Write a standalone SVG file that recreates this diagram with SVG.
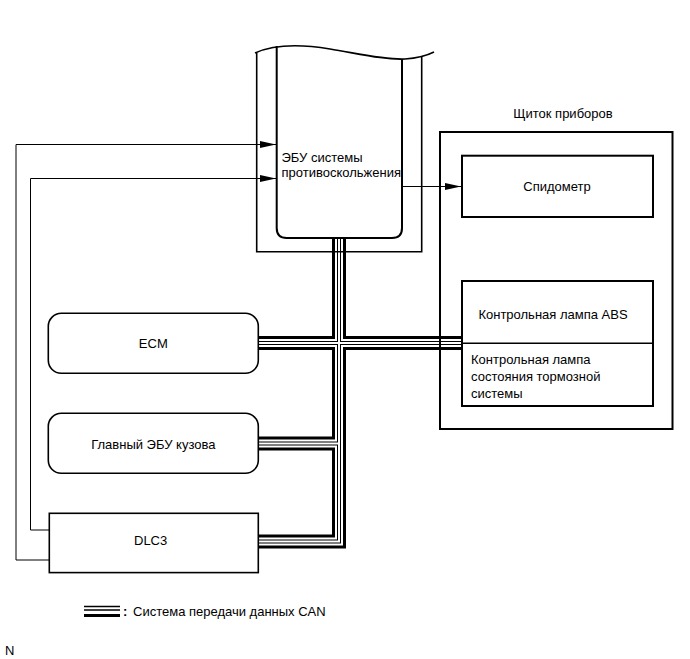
<svg xmlns="http://www.w3.org/2000/svg" xmlns:xlink="http://www.w3.org/1999/xlink" width="690" height="659" viewBox="0 0 690 659">
<style>
text{font-family:"Liberation Sans",Arial,sans-serif;font-size:13px;fill:#000}
.box{fill:none;stroke:#000;stroke-width:1.6}
.box2{fill:none;stroke:#000;stroke-width:2}
.wire{fill:none;stroke:#000;stroke-width:1}
.b1{fill:none;stroke:#000;stroke-width:14;stroke-linejoin:miter}
.b2{fill:none;stroke:#fff;stroke-width:8;stroke-linejoin:miter}
.b3{fill:none;stroke:#000;stroke-width:4;stroke-linejoin:miter}
.b4{fill:none;stroke:#fff;stroke-width:2;stroke-linejoin:miter}
</style>
<defs>
<marker id="arr" markerUnits="userSpaceOnUse" markerWidth="16" markerHeight="8" refX="16" refY="4" orient="auto">
<path d="M0,0.5 L16,4 L0,7.5 z" fill="#000"/>
</marker>
<path id="busTrunk" d="M339 238 V541.5 H258"/>
<path id="busEcm" d="M258 343 H462"/>
<path id="busBody" d="M258 443.5 H339"/>
</defs>
<g id="connectors">
<use href="#busTrunk" class="b1"/><use href="#busEcm" class="b1"/><use href="#busBody" class="b1"/>
<use href="#busTrunk" class="b2"/><use href="#busEcm" class="b2"/><use href="#busBody" class="b2"/>
<use href="#busTrunk" class="b3"/><use href="#busEcm" class="b3"/><use href="#busBody" class="b3"/>
<use href="#busTrunk" class="b4"/><use href="#busEcm" class="b4"/><use href="#busBody" class="b4"/>
<path class="wire" d="M49 560 H16 V144.5 H276" marker-end="url(#arr)"/>
<path class="wire" d="M49 530 H30.5 V178.5 H276" marker-end="url(#arr)"/>
<path class="wire" d="M402 186.5 H461" marker-end="url(#arr)"/>
</g>
<g id="abs-ecu">
<path class="box" d="M256.7 53 V251.7 H421.7 V56.5"/>
<path class="box2" d="M276.7 46 V228 Q276.7 238 286.7 238 H392 Q402 238 402 228 V59"/>
<path class="box" d="M255 53 C275 44,300 44,330 49 C360 54,385 60,405 59 C420 58,428 55,434 52"/>
<text x="281.5" y="162">ЭБУ системы</text>
<text x="281.5" y="177">противоскольжения</text>
</g>
<g id="cluster">
<rect class="box2" x="440" y="132" width="232.5" height="297"/>
<text x="563" y="117.5" text-anchor="middle">Щиток приборов</text>
</g>
<g id="speedometer">
<rect class="box2" x="462" y="155.7" width="191" height="61.3"/>
<text x="557" y="191" text-anchor="middle">Спидометр</text>
</g>
<g id="lamps">
<rect class="box2" x="462" y="281" width="191" height="125"/>
<line class="box" x1="462" y1="343.3" x2="653" y2="343.3"/>
<text x="553" y="318.5" text-anchor="middle">Контрольная лампа ABS</text>
<text x="471" y="363.5">Контрольная лампа</text>
<text x="471" y="380.5">состояния тормозной</text>
<text x="471" y="397.5">системы</text>
</g>
<g id="ecm">
<rect class="box" x="48.3" y="313.3" width="210" height="60" rx="13"/>
<text x="153.3" y="348" text-anchor="middle">ECM</text>
</g>
<g id="body-ecu">
<rect class="box" x="48.3" y="413.3" width="210" height="60" rx="13"/>
<text x="153.3" y="448.5" text-anchor="middle">Главный ЭБУ кузова</text>
</g>
<g id="dlc3">
<rect class="box" x="49.3" y="513.3" width="209" height="59.3"/>
<text x="134" y="545">DLC3</text>
</g>
<g id="legend">
<line x1="84" y1="606.5" x2="120" y2="606.5" stroke="#000" stroke-width="1.5"/>
<line x1="84" y1="610" x2="120" y2="610" stroke="#000" stroke-width="1.5"/>
<line x1="84" y1="615.5" x2="120" y2="615.5" stroke="#000" stroke-width="3"/>
<text x="123" y="616" font-weight="bold">:</text>
<text x="133" y="616">Система передачи данных CAN</text>
<text x="5" y="655" font-size="10">N</text>
</g>
</svg>
